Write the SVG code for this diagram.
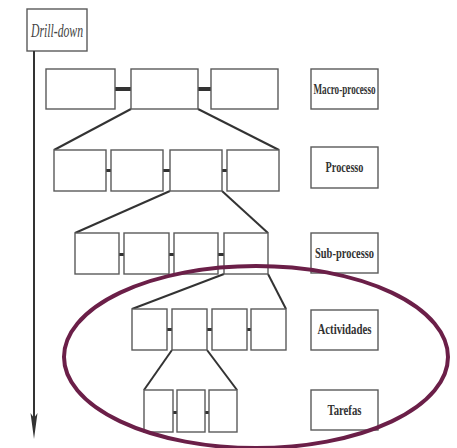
<svg xmlns="http://www.w3.org/2000/svg" width="457" height="448" viewBox="0 0 457 448">
  <style>
    .box { fill: #ffffff; stroke: #5a5a5a; stroke-width: 1.4; }
    .link { stroke: #333333; stroke-width: 2; fill: none; }
    .join { fill: #333333; }
    .lbl { font-family: "Liberation Serif", "DejaVu Serif", serif; font-weight: bold; font-size: 15px; fill: #333333; text-anchor: middle; }
    .title { font-family: "Liberation Serif", "DejaVu Serif", serif; font-style: italic; font-size: 19px; fill: #444444; text-anchor: middle; }
  </style>
  <rect width="457" height="448" fill="#ffffff"/>

  <!-- drill-down axis -->
  <g id="drill-down">
    <rect class="box" x="27" y="9" width="60" height="42"/>
    <text class="title" x="57" y="37" textLength="52" lengthAdjust="spacingAndGlyphs">Drill-down</text>
    <line x1="34" y1="51" x2="34" y2="420" stroke="#333333" stroke-width="2"/>
    <path d="M30.5,413 L34,439 L37.5,413 L34,418 Z" fill="#333333"/>
  </g>

  <!-- level labels -->
  <g id="label-macro"><rect class="box" x="311" y="69" width="67" height="40"/><text class="lbl" x="344.5" y="94" textLength="62" lengthAdjust="spacingAndGlyphs">Macro-processo</text></g>
  <g id="label-processo"><rect class="box" x="311" y="147" width="67" height="41"/><text class="lbl" x="344.5" y="172" textLength="38" lengthAdjust="spacingAndGlyphs">Processo</text></g>
  <g id="label-sub"><rect class="box" x="311" y="233" width="67" height="40"/><text class="lbl" x="344.5" y="258" textLength="59" lengthAdjust="spacingAndGlyphs">Sub-processo</text></g>
  <g id="label-actividades"><rect class="box" x="311" y="310" width="67" height="40"/><text class="lbl" x="344.5" y="334" textLength="54" lengthAdjust="spacingAndGlyphs">Actividades</text></g>
  <g id="label-tarefas"><rect class="box" x="311" y="390" width="67" height="40"/><text class="lbl" x="344.5" y="415" textLength="34" lengthAdjust="spacingAndGlyphs">Tarefas</text></g>

  <!-- connectors: expansion lines and joins between siblings -->
  <g id="connectors">
    <line class="link" x1="131" y1="109" x2="54" y2="150"/>
    <line class="link" x1="198" y1="109" x2="279" y2="150"/>
    <line class="link" x1="170" y1="191" x2="75" y2="233"/>
    <line class="link" x1="222" y1="191" x2="268" y2="233"/>
    <line class="link" x1="224" y1="274" x2="132" y2="309"/>
    <line class="link" x1="268" y1="274" x2="286" y2="309"/>
    <line class="link" x1="172" y1="350" x2="144" y2="390"/>
    <line class="link" x1="207" y1="350" x2="237" y2="390"/>

    <rect class="join" x="115" y="87" width="16" height="4"/>
    <rect class="join" x="198" y="87" width="13" height="4"/>

    <rect class="join" x="106" y="169" width="5" height="3"/>
    <rect class="join" x="163" y="169" width="7" height="3"/>
    <rect class="join" x="222" y="169" width="5" height="3"/>

    <rect class="join" x="119" y="253" width="5" height="3"/>
    <rect class="join" x="169" y="253" width="5" height="3"/>
    <rect class="join" x="218" y="253" width="6" height="3"/>

    <rect class="join" x="167" y="328" width="5" height="3"/>
    <rect class="join" x="207" y="328" width="5" height="3"/>
    <rect class="join" x="247" y="328" width="4" height="3"/>

    <rect class="join" x="173" y="411" width="4" height="3"/>
    <rect class="join" x="205" y="411" width="4" height="3"/>
  </g>

  <!-- macro-process level -->
  <g id="macro-1"><rect class="box" x="46" y="69" width="69" height="40"/></g>
  <g id="macro-2"><rect class="box" x="131" y="69" width="67" height="40"/></g>
  <g id="macro-3"><rect class="box" x="211" y="69" width="67" height="40"/></g>

  <!-- process level -->
  <g id="proc-1"><rect class="box" x="54" y="150" width="52" height="41"/></g>
  <g id="proc-2"><rect class="box" x="111" y="150" width="52" height="41"/></g>
  <g id="proc-3"><rect class="box" x="170" y="150" width="52" height="41"/></g>
  <g id="proc-4"><rect class="box" x="227" y="150" width="52" height="41"/></g>

  <!-- sub-process level -->
  <g id="sub-1"><rect class="box" x="75" y="233" width="44" height="41"/></g>
  <g id="sub-2"><rect class="box" x="124" y="233" width="45" height="41"/></g>
  <g id="sub-3"><rect class="box" x="174" y="233" width="44" height="41"/></g>
  <g id="sub-4"><rect class="box" x="224" y="233" width="44" height="41"/></g>

  <!-- activity level -->
  <g id="act-1"><rect class="box" x="132" y="309" width="35" height="41"/></g>
  <g id="act-2"><rect class="box" x="172" y="309" width="35" height="41"/></g>
  <g id="act-3"><rect class="box" x="212" y="309" width="35" height="41"/></g>
  <g id="act-4"><rect class="box" x="251" y="309" width="35" height="41"/></g>

  <!-- task level -->
  <g id="task-1"><rect class="box" x="144" y="390" width="29" height="42"/></g>
  <g id="task-2"><rect class="box" x="177" y="390" width="28" height="42"/></g>
  <g id="task-3"><rect class="box" x="209" y="390" width="28" height="42"/></g>

  <!-- highlight around the lower levels -->
  <g id="focus">
    <ellipse cx="256" cy="357" rx="192" ry="91" fill="none" stroke="#6b1f48" stroke-width="4"/>
  </g>
</svg>
